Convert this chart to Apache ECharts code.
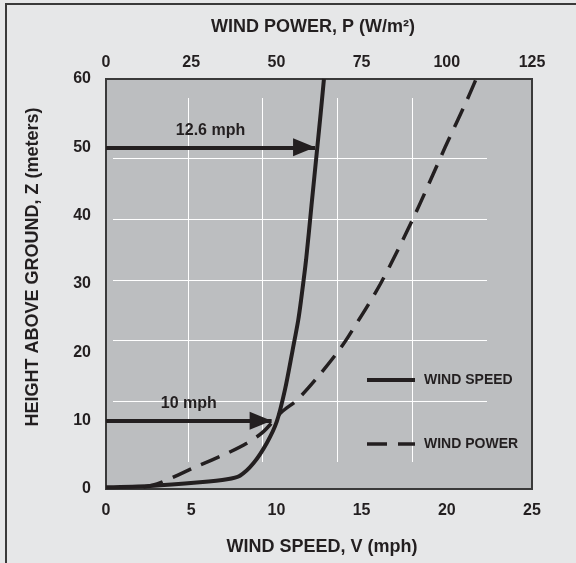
<!DOCTYPE html>
<html>
<head>
<meta charset="utf-8">
<script src="https://cdn.jsdelivr.net/npm/echarts@6/dist/echarts.min.js"></script>
<style>
html,body{margin:0;padding:0;background:#e6e7e8;overflow:hidden;}
#chart{width:576px;height:563px;}
</style>
</head>
<body>
<div id="chart"></div>
<script>
// ---- data ----
const speedV = [0, 2.6, 5.5, 7.1, 7.86, 8.65, 9.43, 10.02, 10.5, 10.95, 11.28, 11.45, 11.74, 12.06, 12.4, 12.6, 12.79];
const speedZ = [0.25, 0.44, 0.98, 1.42, 1.95, 3.76, 6.7, 9.85, 14.5, 20.3, 24.7, 27.7, 33.5, 41.5, 50, 55, 60];
const powerP = [11, 15.8, 26.6, 35.4, 41.3, 46.2, 51.6, 56.0, 61.8, 67.7, 71.1, 80.5, 90.5, 99.5, 106, 108.6];
const powerZ = [0.3, 0.9, 3.3, 5.2, 6.7, 8.4, 11.3, 13.0, 16.2, 19.86, 22.3, 30, 40, 50, 57, 60];
const arrowZ = [50, 10];
const arrowV = [12.27, 9.72];
const arrowLabels = ['12.6 mph', '10 mph'];
const seriesNames = ['WIND SPEED', 'WIND POWER'];
const speedTicks = [0, 5, 10, 15, 20, 25];
const powerTicks = [0, 25, 50, 75, 100, 125];
const heightTicks = [0, 10, 20, 30, 40, 50, 60];
const titles = {power: 'WIND POWER, P (W/m²)', speed: 'WIND SPEED, V (mph)', height: 'HEIGHT ABOVE GROUND, Z (meters)'};

const INK = '#231f20';
const FONT = '"Liberation Sans", Arial, sans-serif';

const chart = echarts.init(document.getElementById('chart'));
const pairs = (a, b) => a.map((v, i) => [v, b[i]]);

const tickLabel = {color: INK, fontFamily: FONT, fontWeight: 'bold', fontSize: 16};
const titleStyle = {fill: INK, fontFamily: FONT, fontWeight: 'bold', fontSize: 18, align: 'center', verticalAlign: 'middle'};

chart.setOption({
  backgroundColor: '#e6e7e8',
  animation: false,
  grid: [
    {left: 106, right: 44, top: 79, bottom: 74, show: true, backgroundColor: '#bcbec0',
     borderColor: '#3a3a3a', borderWidth: 2, outerBoundsMode: 'none', containLabel: false},
    {left: 113, right: 89, top: 98, bottom: 101, show: false, outerBoundsMode: 'none', containLabel: false}
  ],
  xAxis: [
    {type: 'value', gridIndex: 0, position: 'bottom', min: speedTicks[0], max: speedTicks[speedTicks.length - 1], interval: 5,
     axisLine: {show: false}, axisTick: {show: false}, splitLine: {show: false},
     axisLabel: Object.assign({margin: 14}, tickLabel)},
    {type: 'value', gridIndex: 0, position: 'top', min: powerTicks[0], max: powerTicks[powerTicks.length - 1], interval: 25,
     axisLine: {show: false}, axisTick: {show: false}, splitLine: {show: false},
     axisLabel: Object.assign({margin: 8}, tickLabel)},
    {type: 'value', gridIndex: 1, min: 0, max: 5, interval: 1,
     axisLine: {show: false}, axisTick: {show: false}, axisLabel: {show: false},
     splitLine: {show: true, showMinLine: false, showMaxLine: false, lineStyle: {color: '#ffffff', width: 1}}}
  ],
  yAxis: [
    {type: 'value', gridIndex: 0, min: heightTicks[0], max: heightTicks[heightTicks.length - 1], interval: 10,
     axisLine: {show: false}, axisTick: {show: false}, splitLine: {show: false},
     axisLabel: Object.assign({margin: 15}, tickLabel)},
    {type: 'value', gridIndex: 1, min: 0, max: 6, interval: 1,
     axisLine: {show: false}, axisTick: {show: false}, axisLabel: {show: false},
     splitLine: {show: true, showMinLine: false, showMaxLine: false, lineStyle: {color: '#ffffff', width: 1}}}
  ],
  legend: {
    orient: 'vertical', left: 365, top: 373, padding: 0, itemWidth: 48, itemHeight: 14, itemGap: 50,
    itemStyle: {opacity: 0, borderWidth: 0},
    data: [
      {name: seriesNames[0], itemStyle: {opacity: 0, borderWidth: 0}, lineStyle: {color: INK, width: 4, type: 'solid'}},
      {name: seriesNames[1], itemStyle: {opacity: 0, borderWidth: 0}, lineStyle: {color: INK, width: 3.5, type: [20, 11]}}
    ],
    textStyle: {color: INK, fontFamily: FONT, fontWeight: 'bold', fontSize: 14, padding: [0, 0, 0, 4]}
  },
  series: [
    {name: seriesNames[0], type: 'line', xAxisIndex: 0, yAxisIndex: 0, data: pairs(speedV, speedZ),
     symbol: 'none', showSymbol: false, smooth: 0.3, lineStyle: {color: INK, width: 4}, itemStyle: {color: INK}, z: 5,
     markLine: {
       silent: true, symbol: 'none',
       lineStyle: {color: INK, width: 4, type: 'solid'},
       label: {show: true, position: 'insideMiddleTop', distance: 9, formatter: p => p.name,
               color: INK, fontFamily: FONT, fontWeight: 'bold', fontSize: 16},
       data: arrowZ.map((z, i) => [
         {name: arrowLabels[i], coord: [0, z], symbol: 'none'},
         {coord: [arrowV[i], z], symbol: 'triangle', symbolSize: [18, 22], symbolOffset: [0, 11]}
       ])
     }},
    {name: seriesNames[1], type: 'line', xAxisIndex: 1, yAxisIndex: 0, data: pairs(powerP, powerZ),
     symbol: 'none', showSymbol: false, smooth: 0.3, lineStyle: {color: INK, width: 3.5, type: [20, 11]}, itemStyle: {color: INK}, z: 5}
  ],
  graphic: [
    {type: 'line', shape: {x1: 6, y1: 4, x2: 6, y2: 563}, style: {stroke: '#3a3a3a', lineWidth: 2}},
    {type: 'line', shape: {x1: 5, y1: 4, x2: 576, y2: 4}, style: {stroke: '#3a3a3a', lineWidth: 2}},
    {type: 'text', x: 313, y: 27, style: Object.assign({text: titles.power}, titleStyle)},
    {type: 'text', x: 322, y: 547, style: Object.assign({text: titles.speed}, titleStyle)},
    {type: 'text', x: 33, y: 267, rotation: Math.PI / 2, style: Object.assign({text: titles.height}, titleStyle)}
  ]
});
</script>
</body>
</html>
